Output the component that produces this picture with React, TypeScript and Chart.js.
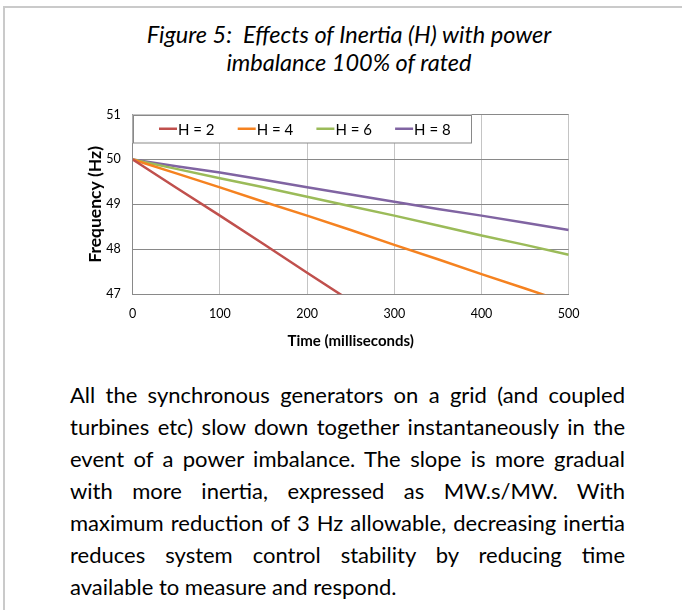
import React, { useEffect, useRef } from "react";
import { Chart, registerables } from "chart.js";

Chart.register(...registerables);

// ---- data ----
const titleLines = ["Figure 5:  Effects of Inertia (H) with power", "imbalance 100% of rated"];
const timeMs = [0, 50, 100, 150, 200, 250, 300, 350, 400, 450, 500];
const seriesLabels = ["H = 2", "H = 4", "H = 6", "H = 8"];
const h2 = [50, 49.37, 48.75, 48.12, 47.48, 46.85, null, null, null, null, null];
const h4 = [50, 49.69, 49.38, 49.06, 48.75, 48.43, 48.1, 47.78, 47.45, 47.13, 46.8];
const h6 = [50, 49.79, 49.58, 49.38, 49.17, 48.96, 48.75, 48.53, 48.31, 48.1, 47.88];
const h8 = [50, 49.85, 49.71, 49.55, 49.38, 49.22, 49.06, 48.9, 48.75, 48.59, 48.43];
const seriesColors = ["#C0504D", "#F58220", "#9BBB59", "#8064A2"];
const yTicks = [47, 48, 49, 50, 51];
const xTicks = [0, 100, 200, 300, 400, 500];
const xTitle = "Time (milliseconds)";
const yTitle = "Frequency (Hz)";
const paragraphLines = [
  "All the synchronous generators on a grid (and coupled",
  "turbines etc) slow down together instantaneously in the",
  "event of a power imbalance. The slope is more gradual",
  "with more inertia, expressed as MW.s/MW. With",
  "maximum reduction of 3 Hz allowable, decreasing inertia",
  "reduces system control stability by reducing time",
  "available to measure and respond.",
];

const FONT = "'Lato', sans-serif";

const legendPlugin = {
  id: "boxLegend",
  afterDatasetsDraw(chart: any) {
    const { ctx, chartArea } = chart;
    const left = chartArea.left;
    const top = chartArea.top;
    const w = 339;
    const h = 28.5;
    ctx.save();
    ctx.fillStyle = "#ffffff";
    ctx.fillRect(left, top, w, h);
    ctx.strokeStyle = "#898989";
    ctx.lineWidth = 1;
    ctx.strokeRect(Math.round(left) + 0.5, Math.round(top) + 0.5, w - 1, h - 1);
    const cy = top + h / 2;
    chart.data.datasets.forEach((ds: any, i: number) => {
      const x = left + 26.3 + i * 78.7;
      ctx.strokeStyle = ds.borderColor;
      ctx.lineWidth = 2.5;
      ctx.beginPath();
      ctx.moveTo(x, cy);
      ctx.lineTo(x + 18, cy);
      ctx.stroke();
      ctx.fillStyle = "#000000";
      ctx.font = `15px ${FONT}`;
      ctx.textBaseline = "middle";
      ctx.textAlign = "left";
      ctx.fillText(ds.label, x + 19, cy + 1);
    });
    ctx.restore();
  },
};

function FreqChart() {
  const ref = useRef<HTMLCanvasElement | null>(null);
  useEffect(() => {
    if (!ref.current) return;
    const values = [h2, h4, h6, h8];
    const chart = new Chart(ref.current, {
      type: "line",
      data: {
        datasets: seriesLabels.map((label, i) => ({
          label,
          data: timeMs.map((t, j) => ({ x: t, y: values[i][j] as any })),
          borderColor: seriesColors[i],
          backgroundColor: seriesColors[i],
          borderWidth: 2.5,
          pointRadius: 0,
          tension: 0,
          fill: false,
        })),
      },
      options: {
        animation: false,
        responsive: false,
        devicePixelRatio: 1,
        layout: { padding: { left: 84.5, right: 113.3, top: 15.7, bottom: 0 } },
        plugins: { legend: { display: false }, tooltip: { enabled: false } },
        scales: {
          x: {
            type: "linear",
            min: 0,
            max: 500,
            afterBuildTicks: (s: any) => {
              s.ticks = xTicks.map((v) => ({ value: v }));
            },
            afterFit: (s: any) => {
              s.height = 58.7;
            },
            grid: { color: "#C4C4C4", lineWidth: 1, drawTicks: false },
            border: { color: "#898989", width: 1 },
            ticks: {
              color: "#000000",
              padding: 12,
              maxRotation: 0,
              font: { family: FONT, size: 12.5 },
            },
            title: {
              display: true,
              text: xTitle,
              color: "#000000",
              padding: { top: 0, bottom: 3 },
              font: { family: FONT, size: 15, weight: "bold" },
            },
          },
          y: {
            type: "linear",
            min: 47,
            max: 51,
            afterBuildTicks: (s: any) => {
              s.ticks = yTicks.map((v) => ({ value: v }));
            },
            afterFit: (s: any) => {
              s.width = 48.2;
            },
            grid: { color: "#898989", lineWidth: 1, drawTicks: false },
            border: { color: "#898989", width: 1 },
            ticks: {
              color: "#000000",
              padding: 12,
              font: { family: FONT, size: 12.5 },
            },
            title: {
              display: true,
              text: yTitle,
              color: "#000000",
              padding: { top: 0, bottom: 0 },
              font: { family: FONT, size: 17.5, weight: "bold" },
            },
          },
        },
      },
      plugins: [legendPlugin],
    });
    return () => chart.destroy();
  }, []);
  return (
    <canvas
      ref={ref}
      width={682}
      height={258}
      style={{ position: "absolute", left: 0, top: 95, width: 682, height: 258 }}
    />
  );
}

export default function App() {
  return (
    <div
      style={{
        position: "absolute",
        left: 0,
        top: 0,
        width: 682,
        height: 610,
        background: "#ffffff",
        overflow: "hidden",
      }}
    >
      <div
        style={{
          position: "absolute",
          left: 3,
          top: 6,
          width: 700,
          height: 620,
          borderLeft: "2px solid #CACACA",
          borderTop: "2px solid #CACACA",
        }}
      />
      <div
        style={{
          position: "absolute",
          left: 100,
          width: 498,
          top: 20,
          fontFamily: FONT,
          fontStyle: "italic",
          fontSize: 23.5,
          lineHeight: "28px",
          color: "#000",
          textAlign: "center",
          whiteSpace: "pre",
        }}
      >
        {titleLines.map((l, i) => (
          <div key={i}>{l}</div>
        ))}
      </div>
      <FreqChart />
      <div
        style={{
          position: "absolute",
          left: 70,
          width: 555,
          top: 379,
          fontFamily: FONT,
          fontSize: 22,
          lineHeight: "32px",
          color: "#000",
        }}
      >
        {paragraphLines.map((l, i) => (
          <div
            key={i}
            style={{
              textAlign: i === paragraphLines.length - 1 ? "left" : "justify",
              textAlignLast: i === paragraphLines.length - 1 ? "left" : "justify",
              whiteSpace: "nowrap",
            }}
          >
            {l}
          </div>
        ))}
      </div>
    </div>
  );
}
